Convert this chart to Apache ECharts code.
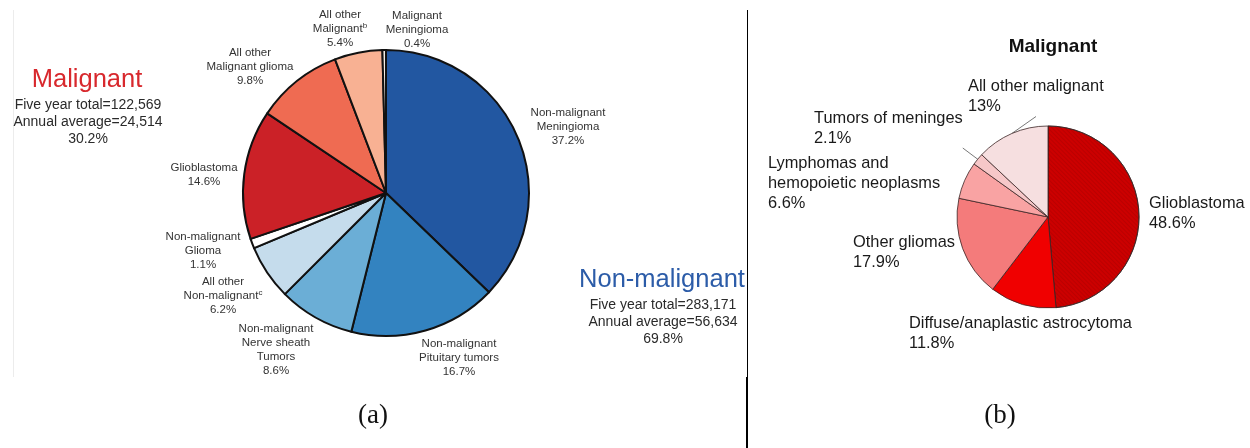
<!DOCTYPE html>
<html>
<head>
<meta charset="utf-8">
<script src="https://cdn.jsdelivr.net/npm/echarts@6/dist/echarts.min.js"></script>
<style>
  html, body { margin: 0; padding: 0; background: #fff; }
  #chart { width: 1250px; height: 448px; }
</style>
</head>
<body>
<div id="chart"></div>
<script>
// ---- Panel (a): all primary brain and CNS tumours, clockwise from 12 o'clock ----
const aCategories = [
  'Non-malignant\nMeningioma',
  'Non-malignant\nPituitary tumors',
  'Non-malignant\nNerve sheath\nTumors',
  'All other\nNon-malignant',
  'Non-malignant\nGlioma',
  'Glioblastoma',
  'All other\nMalignant glioma',
  'All other\nMalignant',
  'Malignant\nMeningioma'
];
const aFootnotes = ['', '', '', 'c', '', '', '', 'b', ''];
const aValues = [37.2, 16.7, 8.6, 6.2, 1.1, 14.6, 9.8, 5.4, 0.4];

// Group summaries (Malignant, Non-malignant)
const groupTitles = ['Malignant', 'Non-malignant'];
const fiveYearTotals = ['122,569', '283,171'];
const annualAverages = ['24,514', '56,634'];
const groupShares = [30.2, 69.8];

// ---- Panel (b): malignant tumours only, clockwise from 12 o'clock ----
const bTitle = 'Malignant';
const bCategories = [
  'Glioblastoma',
  'Diffuse/anaplastic astrocytoma',
  'Other gliomas',
  'Lymphomas and\nhemopoietic neoplasms',
  'Tumors of meninges',
  'All other malignant'
];
const bValues = [48.6, 11.8, 17.9, 6.6, 2.1, 13];

const panelTags = ['(a)', '(b)'];

// ---- styling ----
const SANS = '"Liberation Sans", Arial, Helvetica, sans-serif';
const SERIF = '"Liberation Serif", "Times New Roman", serif';
const aColors = ['#2257a1', '#3383c0', '#6baed6', '#c5dcec', '#ffffff',
                 '#cb2127', '#ef6b52', '#f8b193', '#f4ede4'];
const bColors = ['#cc0000', '#f00000', '#f47b7b', '#f9a3a3', '#f6c7c8', '#f6dfe0'];

// label anchor points (text block centre for (a), left/middle for (b))
const aLabelPos = [
  [568, 127], [459, 358], [276, 350], [223, 296], [203, 251],
  [204, 174.5], [250, 67], [340, 29], [417, 29.5]
];
const bLabelPos = [
  [1149, 213], [909, 333], [853, 252.5], [768, 183], [814, 128], [968, 96.5]
];
// where the leader line meets each label block, relative to its left/middle point
const bLeaderEnd = { 4: 'right', 5: 68 };

const chart = echarts.init(document.getElementById('chart'), null, { renderer: 'canvas' });

const option = {
  backgroundColor: '#ffffff',
  animation: false,
  series: [
    {
      type: 'pie',
      center: [386, 193],
      radius: 143,
      startAngle: 90,
      clockwise: true,
      silent: true,
      itemStyle: { borderColor: '#111', borderWidth: 2 },
      label: {
        show: true,
        position: 'outside',
        overflow: 'none',
        fontFamily: SANS,
        fontSize: 11.5,
        lineHeight: 14,
        color: '#333',
        align: 'center',
        formatter: function (p) {
          const lines = aCategories[p.dataIndex].split('\n');
          const fn = aFootnotes[p.dataIndex];
          if (fn) lines[lines.length - 1] += '{sup|' + fn + '}';
          return lines.join('\n') + '\n' + p.value + '%';
        },
        rich: {
          sup: { fontFamily: SANS, fontSize: 8, lineHeight: 14, verticalAlign: 'top', color: '#333', padding: [0, 0, 4, 0] }
        }
      },
      labelLine: { show: false },
      labelLayout: function (p) {
        const pos = aLabelPos[p.dataIndex];
        return { x: pos[0], y: pos[1], align: 'center', verticalAlign: 'middle' };
      },
      data: aValues.map(function (v, i) {
        return { name: aCategories[i], value: v, itemStyle: { color: aColors[i] } };
      })
    },
    {
      type: 'pie',
      center: [1048, 217],
      radius: 91,
      startAngle: 90,
      clockwise: true,
      silent: true,
      itemStyle: { borderColor: '#3b2424', borderWidth: 0.8 },
      label: {
        show: true,
        position: 'outside',
        overflow: 'none',
        fontFamily: SANS,
        fontSize: 16.4,
        lineHeight: 20,
        color: '#1a1a1a',
        align: 'left',
        formatter: function (p) {
          return bCategories[p.dataIndex] + '\n' + p.value + '%';
        }
      },
      labelLine: { show: false },
      labelLayout: function (p) {
        const pos = bLabelPos[p.dataIndex];
        const out = { x: pos[0], y: pos[1], align: 'left', verticalAlign: 'middle' };
        const end = bLeaderEnd[p.dataIndex];
        if (end != null && p.labelLinePoints) {
          const ex = end === 'right' ? pos[0] + p.labelRect.width : pos[0] + end;
          out.labelLinePoints = [p.labelLinePoints[0], [ex, pos[1] + p.labelRect.height / 2]];
        }
        return out;
      },
      data: bValues.map(function (v, i) {
        const item = { name: bCategories[i], value: v, itemStyle: { color: bColors[i] } };
        if (i === 0) {
          item.itemStyle.decal = {
            symbol: 'rect',
            symbolSize: 1,
            dashArrayX: [1, 0],
            dashArrayY: [1, 2],
            rotation: Math.PI / 4,
            color: 'rgba(60,0,0,0.12)'
          };
        }
        if (i >= 4) {
          item.labelLine = { show: true, length: 12, length2: 0, lineStyle: { color: '#555', width: 0.8 } };
        }
        return item;
      })
    }
  ],
  graphic: [
    // faint left frame edge of panel (a)
    { type: 'line', silent: true, shape: { x1: 13.5, y1: 10, x2: 13.5, y2: 377 }, style: { stroke: '#ececec', lineWidth: 1 } },
    // divider between panels
    { type: 'line', silent: true, shape: { x1: 747.5, y1: 10, x2: 747.5, y2: 377 }, style: { stroke: '#000', lineWidth: 1 } },
    { type: 'line', silent: true, shape: { x1: 747, y1: 377, x2: 747, y2: 448 }, style: { stroke: '#000', lineWidth: 2 } },
    // group summaries
    { type: 'text', silent: true, style: { x: 87, y: 80, text: groupTitles[0], align: 'center', verticalAlign: 'middle', fontFamily: SANS, fontSize: 25.5, fill: '#d8282d' } },
    { type: 'text', silent: true, style: {
        x: 88, y: 122, align: 'center', verticalAlign: 'middle', fontFamily: SANS, fontSize: 14, lineHeight: 17, fill: '#2a2a2a',
        text: 'Five year total=' + fiveYearTotals[0] + '\nAnnual average=' + annualAverages[0] + '\n' + groupShares[0] + '%' } },
    { type: 'text', silent: true, style: { x: 662, y: 280, text: groupTitles[1], align: 'center', verticalAlign: 'middle', fontFamily: SANS, fontSize: 25.5, fill: '#2c5ca8' } },
    { type: 'text', silent: true, style: {
        x: 663, y: 322, align: 'center', verticalAlign: 'middle', fontFamily: SANS, fontSize: 14, lineHeight: 17, fill: '#2a2a2a',
        text: 'Five year total=' + fiveYearTotals[1] + '\nAnnual average=' + annualAverages[1] + '\n' + groupShares[1] + '%' } },
    // panel (b) title
    { type: 'text', silent: true, style: { x: 1053, y: 47, text: bTitle, align: 'center', verticalAlign: 'middle', fontFamily: SANS, fontWeight: 'bold', fontSize: 19, fill: '#111' } },
    // panel tags
    { type: 'text', silent: true, style: { x: 373, y: 416, text: panelTags[0], align: 'center', verticalAlign: 'middle', fontFamily: SERIF, fontSize: 27, fill: '#111' } },
    { type: 'text', silent: true, style: { x: 1000, y: 416, text: panelTags[1], align: 'center', verticalAlign: 'middle', fontFamily: SERIF, fontSize: 27, fill: '#111' } }
  ]
};

chart.setOption(option);
</script>
</body>
</html>
